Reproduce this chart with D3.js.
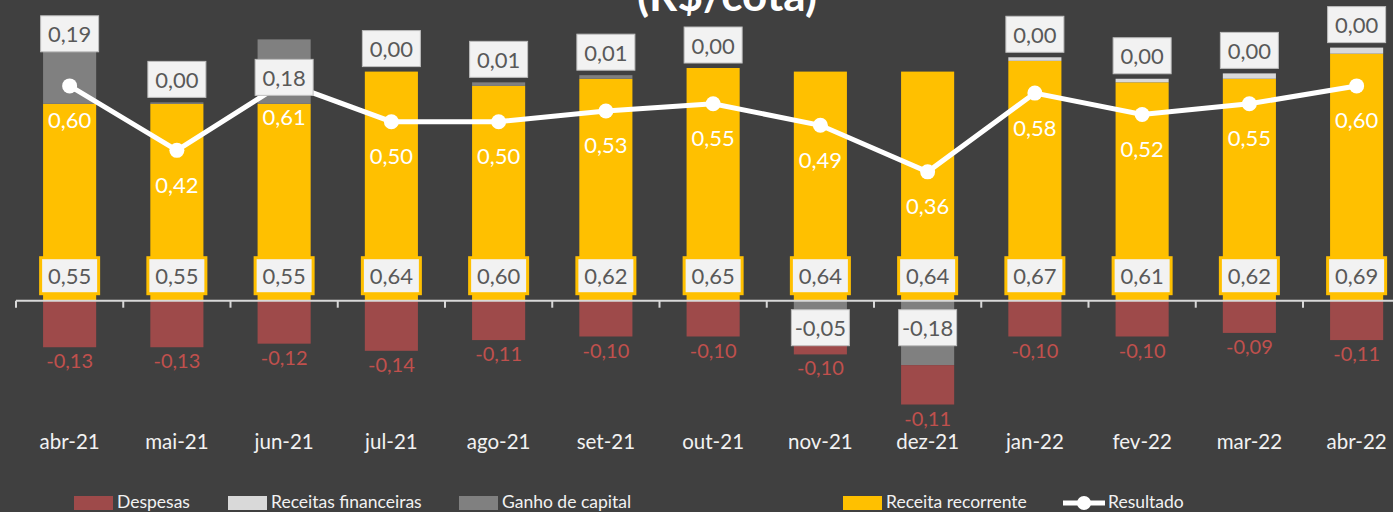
<!DOCTYPE html>
<html>
<head>
<meta charset="utf-8">
<script src="https://cdn.jsdelivr.net/npm/d3@7"></script>
<style>
  html, body { margin: 0; padding: 0; background: #404040; overflow: hidden; }
  svg { display: block; font-family: Lato, "Open Sans", sans-serif; }
</style>
</head>
<body>
<svg id="chart" width="1393" height="512"></svg>
<script>
// values (R$/cota)
const months = ["abr-21","mai-21","jun-21","jul-21","ago-21","set-21","out-21","nov-21","dez-21","jan-22","fev-22","mar-22","abr-22"]
const receitaRecorrente = [0.55,0.55,0.55,0.64,0.60,0.62,0.65,0.64,0.64,0.67,0.61,0.62,0.69]
const receitasFinanceiras = [0,0,0,0,0,0,0,0,0,0.01,0.01,0.015,0.017]
const ganhoCapital = [0.19,0.004,0.18,0,0.01,0.01,0,-0.05,-0.18,0,0,0,0]
const despesas = [-0.13,-0.13,-0.12,-0.14,-0.11,-0.10,-0.10,-0.10,-0.11,-0.10,-0.10,-0.09,-0.11]
const resultado = [0.60,0.42,0.61,0.50,0.50,0.53,0.55,0.49,0.36,0.58,0.52,0.55,0.60]

const colors = {
  despesas: "#9E4A4A",
  financeiras: "#D9D9D9",
  ganho: "#808080",
  recorrente: "#FFC000"
}

const W = 1393, H = 512
const svg = d3.select("#chart")

const rows = months.map((m,i)=>({
  month: m,
  recorrente: receitaRecorrente[i],
  financeiras: receitasFinanceiras[i],
  ganho: ganhoCapital[i],
  despesas: despesas[i],
  resultado: resultado[i]
}))

let x = d3.scaleBand()
    .domain(months)
    .range([16, 16 + 13*107.25])
    .paddingInner(0.505)
    .paddingOuter(0.2525)
let y = d3.scaleLinear()
    .domain([-0.35, 0.84])
    .range([426, 0])

const keys = ["recorrente","financeiras","ganho","despesas"]
const stacked = d3.stack().keys(keys).offset(d3.stackOffsetDiverging)(rows)

// bars
svg.append("g").selectAll("g")
  .data(stacked)
  .enter().append("g")
    .attr("fill", d=>colors[d.key])
  .selectAll("rect")
  .data(d=>d)
  .enter().append("rect")
    .attr("x", d=>x(d.data.month))
    .attr("width", x.bandwidth())
    .attr("y", d=>y(Math.max(d[0],d[1])))
    .attr("height", d=>Math.abs(y(d[0])-y(d[1])))

// axis line + boundary ticks
const y0 = y(0)
const half = x.step()*0.505/2
svg.append("line")
  .attr("x1", x(months[0])-half).attr("x2", W)
  .attr("y1", y0).attr("y2", y0)
  .attr("stroke", "#D9D9D9").attr("stroke-width", 2)
svg.append("g").selectAll("line")
  .data(months)
  .enter().append("line")
    .attr("x1", d=>x(d)-half).attr("x2", d=>x(d)-half)
    .attr("y1", y0).attr("y2", y0+7)
    .attr("stroke", "#D9D9D9").attr("stroke-width", 2)

let xAxis = d3.axisBottom(x).tickSize(0).tickPadding(0)
let axisG = svg.append("g")
  .attr("transform", "translate(0,434)")
  .call(xAxis)
axisG.select(".domain").remove()
axisG.selectAll("text")
  .attr("fill", "#F2F2F2")
  .style("font-size", "20.5px")
  .style("font-family", "Lato, sans-serif")

// resultado line
const cx = d=>x(d.month)+x.bandwidth()/2
svg.append("path")
  .datum(rows)
  .attr("fill","none")
  .attr("stroke","#fff")
  .attr("stroke-width",5)
  .attr("d", d3.line().x(cx).y(d=>y(d.resultado)))
svg.append("g").selectAll("circle")
  .data(rows)
  .enter().append("circle")
    .attr("cx", cx)
    .attr("cy", d=>y(d.resultado))
    .attr("r", 7.5)
    .attr("fill","#fff")

const fmt = v=>d3.format(".2f")(v).replace(".",",").replace("−","-")

// resultado labels
svg.append("g").selectAll("text")
  .data(rows)
  .enter().append("text")
    .attr("x", cx)
    .attr("y", d=>y(d.resultado)+34)
    .attr("text-anchor","middle")
    .attr("dominant-baseline","central")
    .attr("fill","#fff")
    .style("font-size","22px")
    .text(d=>fmt(d.resultado))

// despesas labels
const despStack = stacked.find(s=>s.key==="despesas")
svg.append("g").selectAll("text")
  .data(despStack)
  .enter().append("text")
    .attr("x", d=>cx(d.data))
    .attr("y", d=>y(Math.min(d[0],d[1]))+13)
    .attr("text-anchor","middle")
    .attr("dominant-baseline","central")
    .attr("fill","#C0504D")
    .style("font-size","20px")
    .text(d=>fmt(d.data.despesas))

// boxed labels
function boxLabel(g, cxv, cyv, txt, stroke, sw){
  g.append("rect")
    .attr("x", cxv-29).attr("y", cyv-18)
    .attr("width", 58).attr("height", 36)
    .attr("fill","#F2F2F2")
    .attr("stroke", stroke).attr("stroke-width", sw)
  g.append("text")
    .attr("x", cxv).attr("y", cyv)
    .attr("text-anchor","middle")
    .attr("dominant-baseline","central")
    .attr("fill","#595959")
    .style("font-size","22px")
    .text(txt)
}

// receita recorrente labels sit at the base
const recG = svg.append("g")
rows.forEach(d=>boxLabel(recG, cx(d), y0-25, fmt(d.recorrente), "#FFC000", 3))

// ganho de capital labels (two big ones were moved by hand in the original)
const ganhoNudge = {"abr-21": 18, "jun-21": 58}
const ganhoG = svg.append("g")
rows.forEach(d=>{
  let v = d.ganho
  if (v < 0) {
    boxLabel(ganhoG, cx(d), y0+27, fmt(v), "#BFBFBF", 1)
  } else {
    let top = y(d.recorrente + d.financeiras + v)
    let cyv = ganhoNudge[d.month]!==undefined ? top-20+ganhoNudge[d.month] : top-23
    boxLabel(ganhoG, cx(d), cyv, fmt(v), "#BFBFBF", 1)
  }
})

// title (cut off at top of the picture)
svg.append("text")
  .attr("x", 727).attr("y", 11)
  .attr("text-anchor","middle")
  .attr("fill","#fff")
  .style("font-size","44px")
  .style("font-weight","bold")
  .text("(R$/cota)")

// legend
const legendItems = [
  {label:"Despesas", color:colors.despesas, x:74},
  {label:"Receitas financeiras", color:colors.financeiras, x:228},
  {label:"Ganho de capital", color:colors.ganho, x:459},
  {label:"Receita recorrente", color:colors.recorrente, x:843}
]
let legend = svg.append("g")
legendItems.forEach(it=>{
  legend.append("rect")
    .attr("x", it.x).attr("y", 496)
    .attr("width", 39).attr("height", 14)
    .attr("fill", it.color)
  legend.append("text")
    .attr("x", it.x+43).attr("y", 508)
    .attr("fill","#F2F2F2")
    .style("font-size","17.5px")
    .text(it.label)
})
legend.append("line")
  .attr("x1",1063).attr("x2",1105)
  .attr("y1",503).attr("y2",503)
  .attr("stroke","#fff").attr("stroke-width",5)
legend.append("circle")
  .attr("cx",1084).attr("cy",503).attr("r",7).attr("fill","#fff")
legend.append("text")
  .attr("x",1108).attr("y",508)
  .attr("fill","#F2F2F2")
  .style("font-size","17.5px")
  .text("Resultado")
</script>
</body>
</html>
